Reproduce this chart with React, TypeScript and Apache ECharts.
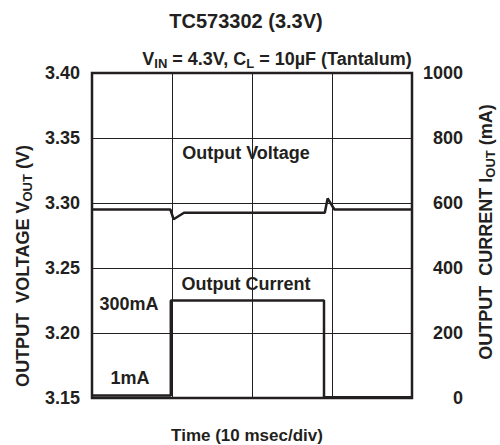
import React, { useEffect, useRef } from "react";
import * as echarts from "echarts";

// ---- data ----
const timeAxis = { min: 0, max: 40, step: 10 }; // ms, 10 msec/div
const voltageAxis = { min: 3.15, max: 3.4, step: 0.05 }; // V
const currentAxis = { min: 0, max: 1000, step: 200 }; // mA

const voltageTime = [0, 9.8, 10.2, 11.5, 29.1, 29.45, 30.3, 40];
const voltageValues = [3.295, 3.295, 3.2875, 3.2925, 3.2925, 3.3035, 3.295, 3.295];

const currentTime = [0, 9.85, 9.85, 29.0, 29.0, 40];
const currentValues = [8, 8, 300, 300, 2, 2];

const titleText = "TC573302 (3.3V)";
const xAxisTitle = "Time (10 msec/div)";
const labelVoltage = "Output Voltage";
const labelCurrent = "Output Current";
const labelHigh = "300mA";
const labelLow = "1mA";

const INK = "#231f20";
const FF = '"Liberation Sans", Arial, Helvetica, sans-serif';

function richStyles(main: number, sub: number) {
  return {
    m: { fontSize: main, fontWeight: "bold", fontFamily: FF, fill: INK, color: INK, lineHeight: main + 4 },
    s: {
      fontSize: sub,
      fontWeight: "bold",
      fontFamily: FF,
      fill: INK,
      color: INK,
      verticalAlign: "bottom",
      lineHeight: sub - 1,
    },
  };
}

function plainText(x: number, y: number, text: string, size: number) {
  return {
    type: "text",
    x,
    y,
    style: {
      text,
      fontSize: size,
      fontWeight: "bold",
      fontFamily: FF,
      fill: INK,
      align: "center",
      verticalAlign: "middle",
    },
  };
}

export default function App() {
  const ref = useRef<HTMLDivElement>(null);

  useEffect(() => {
    if (!ref.current) return;
    const chart = echarts.init(ref.current, null, { renderer: "svg" });

    const option = {
      animation: false,
      backgroundColor: "#ffffff",
      grid: {
        left: 92,
        right: 88,
        top: 73,
        bottom: 47,
        show: true,
        borderColor: INK,
        borderWidth: 2.5,
        backgroundColor: "transparent",
      },
      xAxis: {
        type: "value",
        min: timeAxis.min,
        max: timeAxis.max,
        interval: timeAxis.step,
        axisLine: { show: false },
        axisTick: { show: false },
        axisLabel: { show: false },
        splitLine: { show: true, lineStyle: { color: INK, width: 1 } },
      },
      yAxis: [
        {
          type: "value",
          position: "left",
          min: voltageAxis.min,
          max: voltageAxis.max,
          interval: voltageAxis.step,
          axisLine: { show: false },
          axisTick: { show: false },
          axisLabel: {
            margin: 12,
            fontSize: 18,
            fontWeight: "bold",
            fontFamily: FF,
            color: INK,
            formatter: (v: number) => v.toFixed(2),
          },
          splitLine: { show: true, lineStyle: { color: INK, width: 1 } },
        },
        {
          type: "value",
          position: "right",
          min: currentAxis.min,
          max: currentAxis.max,
          interval: currentAxis.step,
          axisLine: { show: false },
          axisTick: { show: false },
          axisLabel: {
            margin: 51,
            align: "right",
            fontSize: 18,
            fontWeight: "bold",
            fontFamily: FF,
            color: INK,
            formatter: (v: number) => String(Math.round(v)),
          },
          splitLine: { show: false },
        },
      ],
      series: [
        {
          type: "line",
          yAxisIndex: 0,
          showSymbol: false,
          symbol: "none",
          lineStyle: { color: INK, width: 2.5 },
          data: voltageTime.map((t, i) => [t, voltageValues[i]]),
        },
        {
          type: "line",
          yAxisIndex: 1,
          showSymbol: false,
          symbol: "none",
          lineStyle: { color: INK, width: 2.5 },
          data: currentTime.map((t, i) => [t, currentValues[i]]),
        },
      ],
      graphic: [
        plainText(246, 21, titleText, 20),
        {
          type: "text",
          x: 277,
          y: 59,
          style: {
            text: "{m|V}{s|IN}{m| = 4.3V, C}{s|L}{m| = 10\u00b5F (Tantalum)}",
            rich: richStyles(18, 13),
            align: "center",
            verticalAlign: "middle",
          },
        },
        {
          type: "text",
          x: 23,
          y: 266,
          rotation: Math.PI / 2,
          style: {
            text: "{m|OUTPUT  VOLTAGE V}{s|OUT}{m| (V)}",
            rich: richStyles(18, 13),
            align: "center",
            verticalAlign: "middle",
          },
        },
        {
          type: "text",
          x: 486,
          y: 232,
          rotation: Math.PI / 2,
          style: {
            text: "{m|OUTPUT  CURRENT I}{s|OUT}{m| (mA)}",
            rich: richStyles(18, 13),
            align: "center",
            verticalAlign: "middle",
          },
        },
        plainText(246, 153, labelVoltage, 18),
        plainText(246, 284, labelCurrent, 18),
        plainText(129, 304, labelHigh, 18),
        plainText(130, 378, labelLow, 18),
        plainText(247, 435, xAxisTitle, 17),
      ],
    };

    chart.setOption(option as any);
    return () => chart.dispose();
  }, []);

  return (
    <div
      ref={ref}
      style={{ position: "fixed", left: 0, top: 0, width: 500, height: 445, background: "#fff" }}
    />
  );
}
